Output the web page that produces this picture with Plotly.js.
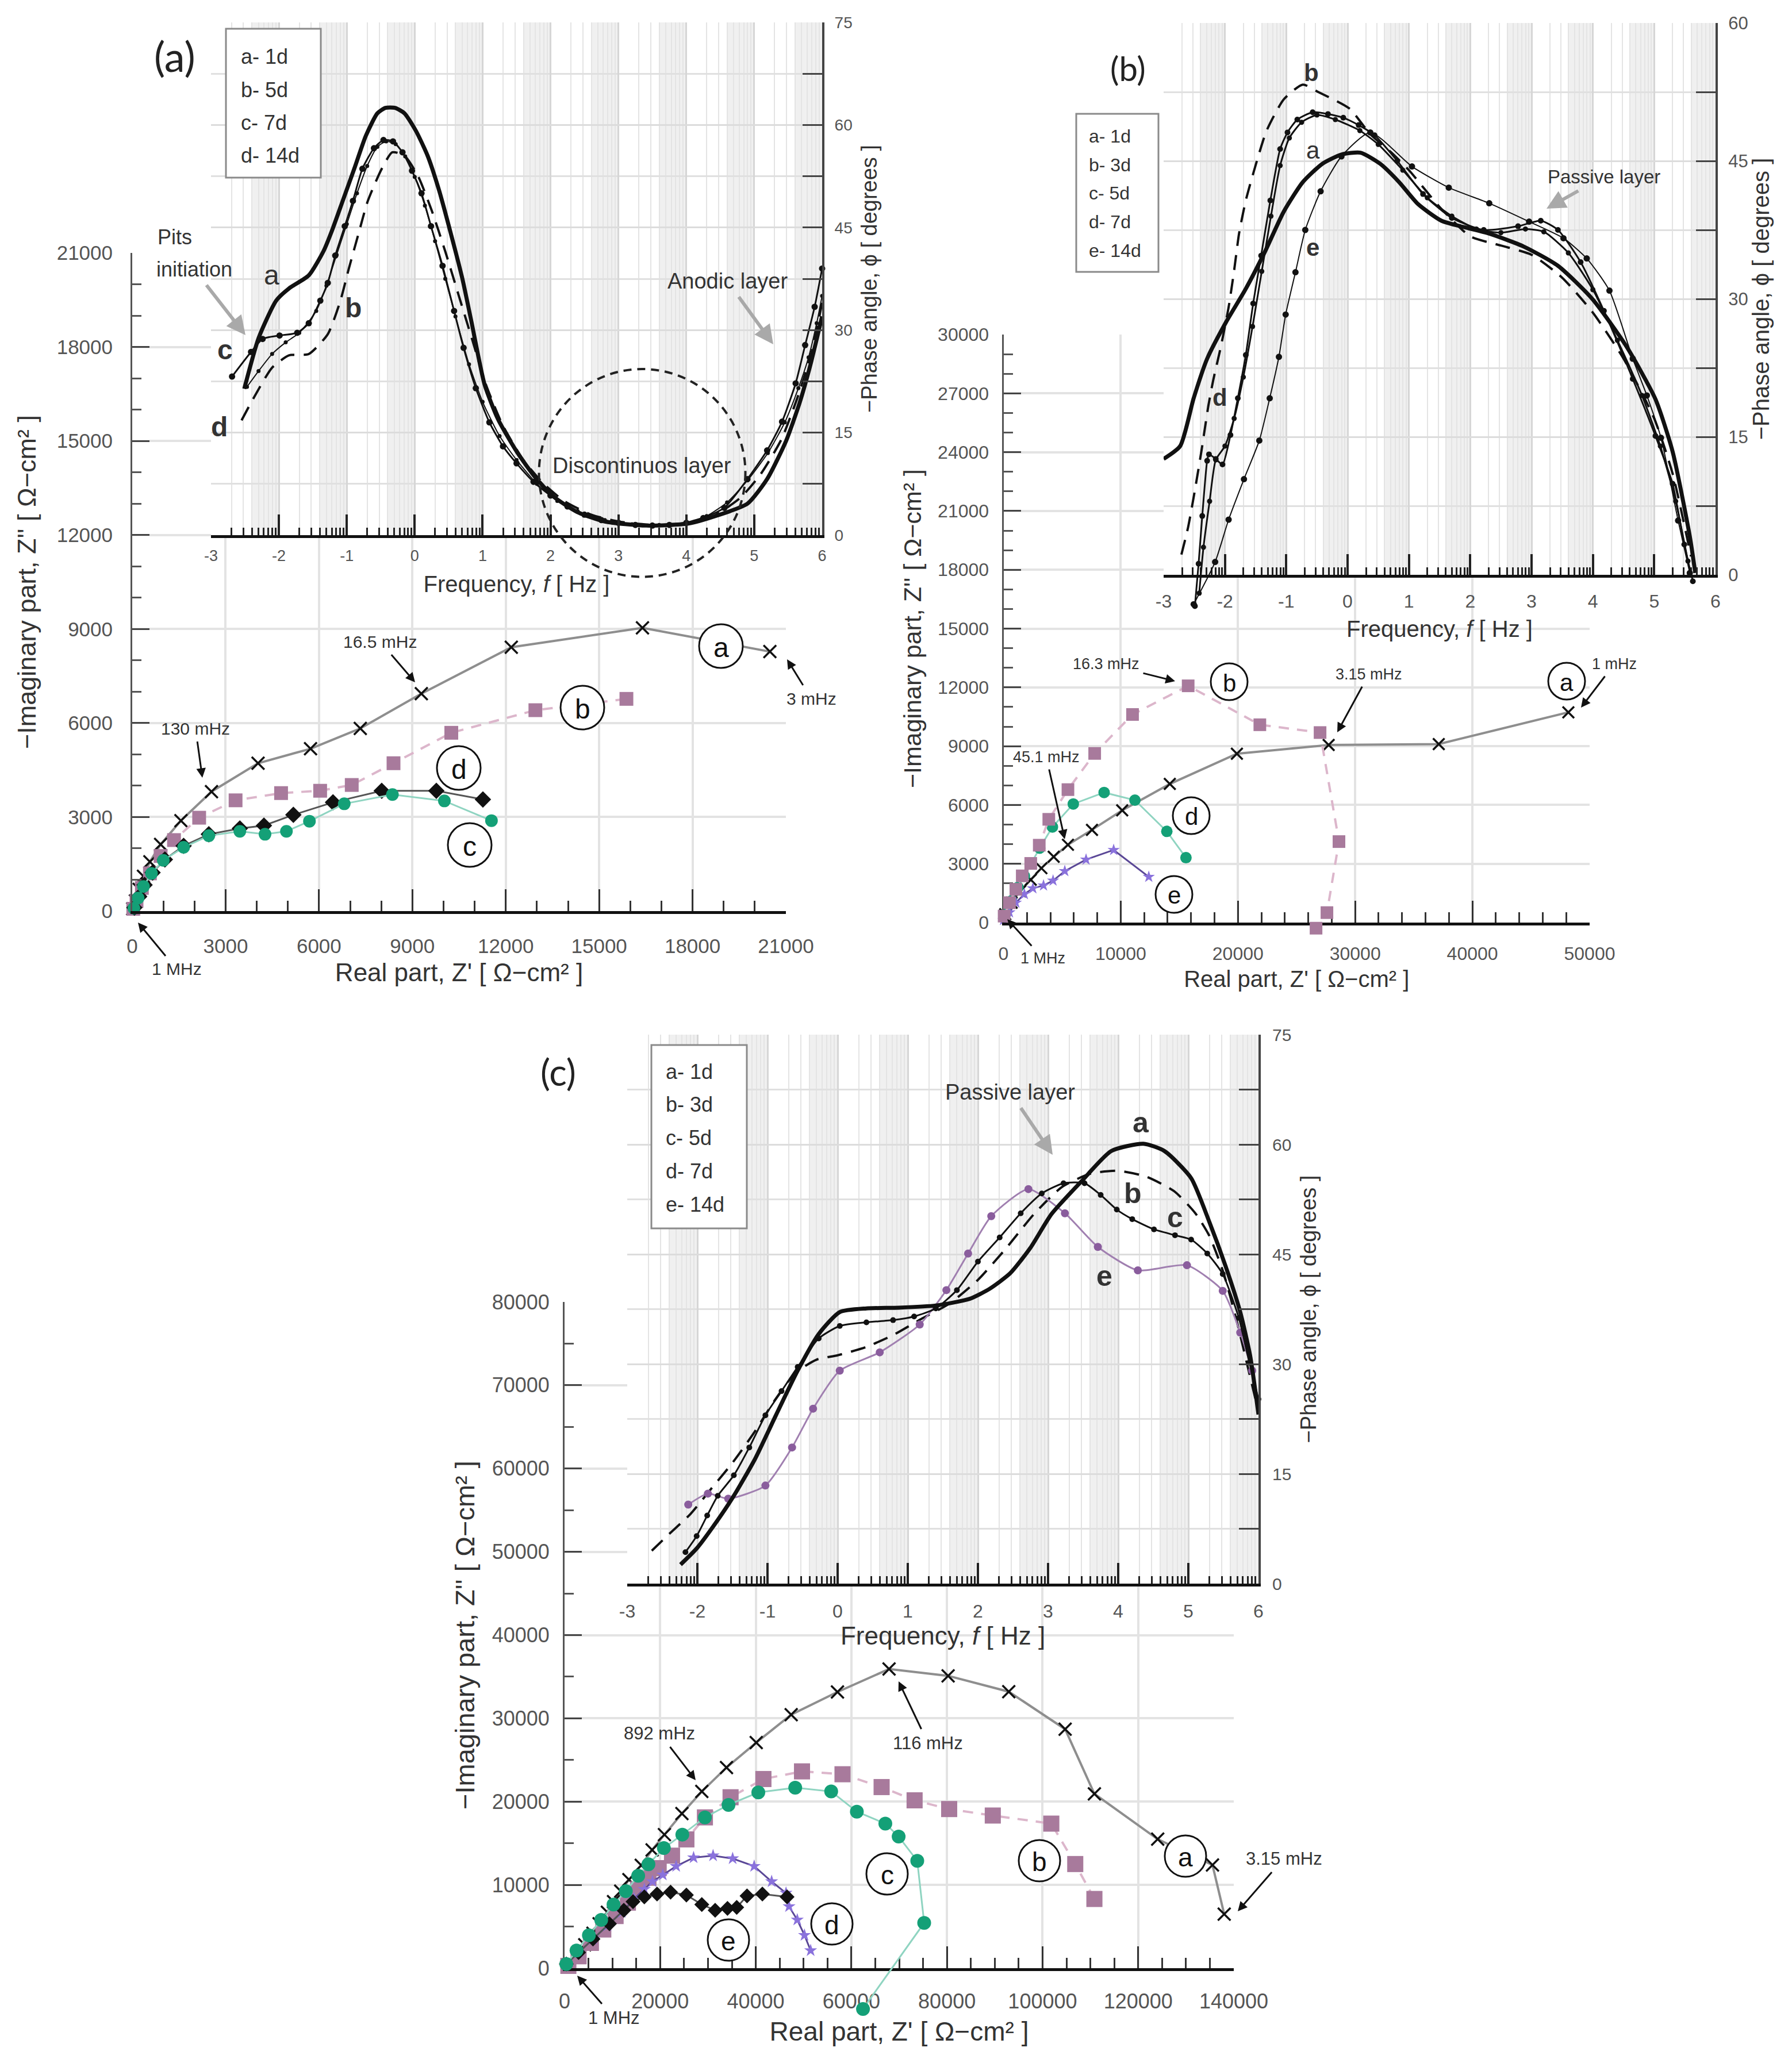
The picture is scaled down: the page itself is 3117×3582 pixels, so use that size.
<!DOCTYPE html>
<html>
<head>
<meta charset="utf-8">
<script src="https://cdn.plot.ly/plotly-3.0.1.min.js"></script>
<style>
  html, body { margin: 0; padding: 0; background: #ffffff; }
  #fig { width: 3117px; height: 3582px; }
</style>
</head>
<body>
<div id="fig"></div>
<script>
// ================= Nyquist data (Z' , -Z'' in ohm·cm²), high → low frequency =================
// Panel (a): 1, 5, 7, 14 days
const nyqA_a_re = [17, 103, 224, 361, 568, 912, 1565, 2546, 4042, 5728, 7327, 9288, 12178, 16392, 20485];
const nyqA_a_im = [74, 324, 694, 1110, 1573, 2128, 2886, 3811, 4718, 5180, 5828, 6937, 8418, 9037, 8279];
const nyqA_b_re = [34, 138, 310, 568, 912, 1342, 2150, 3320, 4782, 6037, 7052, 8394, 10251, 12952, 15876];
const nyqA_b_im = [74, 324, 740, 1203, 1758, 2266, 2979, 3534, 3765, 3839, 4024, 4718, 5689, 6410, 6771];
const nyqA_c_re = [52, 189, 361, 619, 998, 1651, 2460, 3457, 4266, 4954, 5693, 6811, 8359, 10028, 11541];
const nyqA_c_im = [93, 416, 786, 1203, 1619, 2035, 2405, 2544, 2451, 2544, 2868, 3423, 3719, 3515, 2886];
const nyqA_d_re = [69, 224, 396, 654, 1049, 1651, 2460, 3457, 4231, 5177, 6450, 8015, 9770, 11266];
const nyqA_d_im = [111, 463, 833, 1230, 1647, 2081, 2451, 2636, 2729, 3071, 3469, 3839, 3839, 3561];

// Panel (b): 1, 3, 7, 14 days
const nyqB_a_re = [147, 691, 1417, 2324, 3232, 4281, 5497, 7548, 10126, 14187, 19910, 27738, 37130, 48186];
const nyqB_a_im = [428, 1015, 1601, 2188, 2775, 3361, 3970, 4731, 5724, 7073, 8615, 9060, 9107, 10728];
const nyqB_b_re = [54, 510, 1054, 1599, 2324, 3050, 3864, 5497, 7778, 11007, 15752, 21867, 27004, 28618, 27591, 26661];
const nyqB_b_im = [331, 1015, 1698, 2384, 3019, 3948, 5268, 6784, 8630, 10617, 12079, 10093, 9695, 4132, 509, -286];
const nyqB_d_re = [147, 691, 1236, 1780, 2359, 3085, 4173, 5953, 8582, 11211, 13932, 15566];
const nyqB_d_im = [428, 1112, 1798, 2384, 3018, 3801, 4877, 6051, 6637, 6245, 4652, 3311];
const nyqB_e_re = [0, 510, 1054, 1780, 2506, 3413, 4227, 5228, 7042, 9397, 12393];
const nyqB_e_im = [135, 525, 1015, 1455, 1748, 1895, 2139, 2628, 3215, 3704, 2335];

// Panel (c): 1, 3, 5, 7, 14 days
const nyqC_a_re = [794, 2503, 4224, 5945, 7232, 8953, 10241, 11745, 13466, 16044, 18316, 20890, 24550, 28712, 33877, 40096, 47410, 57092, 67886, 80240, 92927, 104724, 110845, 124088, 135551, 138000];
const nyqC_a_im = [276, 1429, 2810, 4191, 5337, 6718, 7988, 9251, 10632, 12358, 14200, 16039, 18572, 21218, 24095, 27085, 30447, 33165, 35922, 35107, 33204, 28699, 20932, 15495, 12388, 6485];
const nyqC_b_re = [794, 2936, 5512, 8099, 10674, 13249, 15403, 17546, 19688, 22480, 25488, 29363, 34731, 41602, 49676, 58148, 66329, 73229, 80463, 89588, 101830, 106838, 110845];
const nyqC_b_im = [276, 1429, 3038, 4646, 6262, 7871, 9479, 10860, 12013, 13510, 15465, 18109, 20525, 22714, 23633, 23288, 21748, 20155, 19107, 18330, 17359, 12505, 8311];
const nyqC_c_re = [361, 2503, 5090, 7666, 10241, 12816, 15403, 17546, 20770, 24634, 29363, 34298, 40533, 48255, 55777, 61147, 67108, 69890, 73785, 75232, 62433];
const nyqC_c_im = [504, 2120, 3956, 5799, 7643, 9251, 11095, 12476, 14430, 16039, 18109, 19608, 21103, 21679, 21218, 18800, 17359, 15806, 12893, 5437, -4893];
const nyqC_d_re = [361, 2936, 5945, 9386, 12395, 14320, 16690, 19350, 22178, 25488, 28712, 31506, 34081, 36018, 38172, 41385, 46549];
const nyqC_d_im = [504, 1885, 3500, 5337, 6952, 7988, 8561, 8906, 9134, 8789, 7643, 6952, 7180, 7298, 8678, 8906, 8561];
const nyqC_e_re = [361, 2936, 5945, 8953, 11962, 14536, 16690, 18400, 20554, 23346, 26992, 31071, 35163, 39664, 43322, 46331, 46968, 48689, 50193, 51481];
const nyqC_e_im = [504, 1885, 3500, 5109, 6718, 8333, 9479, 10404, 11205, 12241, 13276, 13510, 13166, 12241, 10404, 9023, 7408, 5799, 3956, 2120];

// ================= Bode phase data (log10 f [Hz], -phase [deg]) =================
// Panel (a)
const bodeA_a_f  = [-2.51, -2.30, -2.04, -1.85, -1.56, -1.34, -1.22, -1.06, -0.89, -0.72, -0.55, -0.43, -0.29, -0.15, 0.02, 0.19, 0.36, 0.53, 0.70, 0.83, 1.03, 1.23, 1.51, 1.78, 2.05, 2.39, 2.80, 3.41, 4.03, 4.43, 4.90, 5.19, 5.47, 5.67, 5.83, 6.00];
const bodeA_a_ph = [21.4, 28.8, 34.3, 36.1, 38.0, 41.6, 44.5, 48.9, 53.6, 58.4, 61.7, 62.5, 62.5, 61.7, 59.1, 55.5, 50.4, 44.2, 37.6, 31.5, 22.0, 16.9, 12.1, 8.4, 5.6, 3.4, 2.0, 1.4, 1.7, 2.8, 4.6, 8.2, 13.8, 19.4, 25.0, 32.0];
const bodeA_b_f  = [-2.55, -2.37, -2.10, -1.85, -1.56, -1.28, -1.10, -0.97, -0.83, -0.69, -0.49, -0.33, -0.15, 0.05, 0.25, 0.45, 0.65, 0.85, 1.05, 1.30, 1.60, 1.90, 2.20, 2.60, 3.00, 3.50, 4.00, 4.40, 4.80, 5.10, 5.40, 5.65, 5.85, 6.00];
const bodeA_b_ph = [16.8, 20.1, 24.5, 26.3, 26.5, 29.4, 34.1, 39.0, 44.0, 48.9, 53.5, 56.0, 55.5, 52.5, 47.5, 41.5, 35.0, 28.5, 22.0, 16.0, 11.0, 7.5, 5.0, 3.0, 2.0, 1.5, 1.7, 2.8, 5.5, 9.0, 14.0, 20.5, 27.0, 34.0];
const bodeA_c_f  = [-2.69, -2.41, -2.24, -1.99, -1.73, -1.56, -1.39, -1.28, -1.17, -1.03, -0.91, -0.77, -0.60, -0.46, -0.32, -0.18, -0.04, 0.10, 0.24, 0.41, 0.58, 0.72, 0.90, 1.10, 1.30, 1.50, 1.75, 2.00, 2.25, 2.50, 2.75, 3.00, 3.25, 3.50, 3.75, 4.00, 4.25, 4.56, 4.90, 5.19, 5.41, 5.61, 5.75, 5.89, 6.00];
const bodeA_c_ph = [23.2, 26.8, 28.7, 29.2, 29.6, 31.0, 34.3, 36.9, 40.9, 45.2, 48.9, 53.6, 56.6, 57.8, 57.6, 56.0, 53.3, 50.0, 45.2, 39.4, 32.8, 27.4, 21.5, 16.5, 13.0, 10.5, 7.8, 5.8, 4.2, 3.0, 2.2, 1.8, 1.5, 1.4, 1.5, 1.8, 2.5, 4.0, 8.2, 12.4, 16.6, 22.2, 27.8, 33.4, 39.0];
const bodeA_d_f  = [-2.47, -2.30, -2.10, -1.90, -1.70, -1.45, -1.30, -1.15, -1.00, -0.85, -0.70, -0.55, -0.42, -0.28, -0.14, 0.00, 0.15, 0.30, 0.45, 0.60, 0.80, 1.00, 1.25, 1.50, 1.80, 2.10, 2.40, 2.80, 3.20, 3.60, 4.00, 4.30, 4.60, 4.90, 5.20, 5.45, 5.65, 5.80, 5.92, 6.00];
const bodeA_d_ph = [21.7, 24.0, 26.5, 28.2, 29.6, 32.8, 36.5, 41.0, 45.5, 50.0, 54.0, 56.8, 57.6, 57.2, 55.4, 52.4, 48.2, 43.0, 37.5, 32.0, 25.0, 19.5, 14.5, 11.0, 7.5, 5.0, 3.5, 2.2, 1.6, 1.5, 1.9, 2.8, 4.8, 8.0, 12.0, 16.5, 21.5, 26.0, 31.0, 35.0];

// Panel (b)
const bodeB_a_f  = [-3.00, -2.73, -2.51, -2.29, -1.98, -1.66, -1.35, -1.04, -0.73, -0.41, -0.10, 0.21, 0.53, 0.84, 1.15, 1.53, 1.90, 2.31, 2.87, 3.43, 3.99, 4.55, 5.02, 5.30, 5.58, 5.67];
const bodeB_a_ph = [12.6, 14.0, 19.2, 23.5, 27.5, 31.1, 35.1, 39.5, 42.7, 44.7, 45.7, 45.9, 44.7, 42.7, 40.3, 38.5, 37.8, 37.1, 35.7, 33.6, 30.0, 24.8, 19.1, 13.4, 4.2, 0.2];
const bodeB_b_f  = [-2.71, -2.60, -2.49, -2.38, -2.27, -2.19, -2.07, -1.94, -1.85, -1.77, -1.66, -1.51, -1.32, -1.04, -0.73, -0.48, 0.03, 0.37, 0.70, 1.00, 1.50, 2.00, 2.50, 3.00, 3.50, 4.00, 4.50, 5.00, 5.30, 5.60];
const bodeB_b_ph = [2.2, 5.2, 9.2, 13.6, 18.4, 21.2, 24.7, 29.1, 33.1, 37.1, 40.7, 44.3, 48.3, 51.7, 53.3, 52.5, 50.7, 47.9, 46.0, 44.0, 40.0, 36.8, 35.8, 34.8, 32.3, 28.5, 23.5, 17.0, 11.0, 2.0];
const bodeB_c_f  = [-2.42, -2.35, -2.25, -2.15, -2.00, -1.85, -1.70, -1.55, -1.40, -1.25, -1.10, -0.95, -0.75, -0.50, -0.20, 0.20, 0.50, 0.90, 1.30, 1.70, 2.10, 2.50, 2.90, 3.20, 3.60, 4.00, 4.40, 4.80, 5.10, 5.35, 5.55];
const bodeB_c_ph = [-2.0, 3.0, 8.0, 12.5, 14.0, 17.0, 21.5, 27.0, 33.0, 39.0, 44.5, 47.5, 49.2, 50.0, 49.5, 48.3, 46.8, 44.0, 41.0, 39.0, 37.6, 37.2, 37.6, 37.3, 35.0, 31.0, 25.5, 19.5, 14.0, 8.0, 1.5];
const bodeB_d_f  = [-2.49, -2.43, -2.37, -2.29, -2.26, -2.15, -2.04, -1.91, -1.79, -1.66, -1.54, -1.41, -1.26, -1.10, -0.98, -0.82, -0.57, -0.32, -0.07, 0.18, 0.44, 0.81, 1.23, 1.70, 2.22, 2.78, 3.15, 3.43, 3.80, 4.18, 4.65, 5.02, 5.30, 5.49, 5.63];
const bodeB_d_ph = [-3.4, 1.2, 6.4, 12.4, 13.1, 12.6, 12.0, 15.2, 19.2, 23.9, 29.5, 34.7, 40.7, 46.3, 48.1, 49.5, 50.3, 50.1, 49.7, 48.9, 47.8, 45.0, 41.4, 38.8, 37.5, 37.9, 38.5, 37.5, 34.0, 28.7, 21.3, 15.1, 9.9, 3.3, -0.7];
const bodeB_e_f  = [-2.51, -2.16, -1.94, -1.69, -1.44, -1.27, -1.12, -1.01, -0.85, -0.69, -0.44, -0.10, 0.37, 1.05, 1.65, 2.31, 2.96, 3.52, 3.90, 4.27, 4.65, 4.88, 5.11, 5.39, 5.58];
const bodeB_e_ph = [-3.2, 1.4, 6.0, 10.4, 14.6, 19.2, 23.7, 28.3, 32.9, 37.5, 41.7, 45.5, 48.1, 44.4, 42.1, 40.4, 38.4, 36.6, 34.4, 30.9, 23.5, 19.5, 14.9, 5.9, 0.2];

// Panel (c)
const bodeC_a_f  = [-2.24, -2.01, -1.79, -1.48, -1.18, -0.88, -0.57, -0.27, 0.03, 0.41, 0.87, 1.40, 1.88, 2.17, 2.46, 2.75, 3.05, 3.48, 3.90, 4.36, 4.66, 5.04, 5.30, 5.53, 5.74, 5.88, 6.00];
const bodeC_a_ph = [2.6, 4.8, 7.6, 12.0, 17.0, 23.0, 29.1, 34.1, 37.1, 37.6, 37.7, 38.0, 38.9, 40.3, 42.4, 45.9, 50.5, 55.0, 59.1, 60.1, 59.1, 55.4, 49.4, 43.4, 37.1, 31.2, 23.1];
const bodeC_b_f  = [-2.65, -2.40, -2.10, -1.80, -1.50, -1.20, -0.90, -0.60, -0.30, 0.00, 0.40, 0.80, 1.20, 1.60, 2.00, 2.40, 2.80, 3.20, 3.60, 4.00, 4.40, 4.80, 5.10, 5.30, 5.50, 5.70, 5.85, 6.00];
const bodeC_b_ph = [4.5, 6.8, 9.5, 13.0, 16.5, 20.5, 25.0, 28.8, 30.6, 31.2, 32.3, 34.0, 36.2, 38.3, 41.5, 45.8, 50.5, 54.2, 56.0, 56.4, 55.6, 53.6, 50.6, 47.5, 42.5, 35.5, 29.5, 23.5];
const bodeC_c_f  = [-2.17, -2.01, -1.86, -1.71, -1.48, -1.26, -1.03, -0.80, -0.57, -0.27, 0.03, 0.41, 0.79, 1.09, 1.40, 1.70, 2.00, 2.31, 2.61, 2.91, 3.22, 3.52, 3.75, 3.98, 4.20, 4.51, 4.81, 5.04, 5.27, 5.49, 5.72, 5.87, 6.00];
const bodeC_c_ph = [4.3, 6.5, 9.3, 12.0, 14.8, 18.6, 23.0, 26.3, 29.6, 33.5, 35.2, 35.7, 36.0, 36.5, 37.6, 40.1, 44.0, 47.3, 50.6, 53.3, 54.7, 54.7, 53.1, 51.1, 49.8, 48.4, 47.6, 47.0, 45.1, 42.3, 36.3, 30.2, 25.2];
const bodeC_e_f  = [-2.13, -1.85, -1.56, -1.03, -0.65, -0.35, 0.03, 0.60, 1.17, 1.55, 1.86, 2.19, 2.72, 3.24, 3.71, 4.28, 4.98, 5.49, 5.74, 5.91];
const bodeC_e_ph = [10.8, 12.3, 11.6, 13.4, 18.6, 23.9, 29.1, 31.6, 35.4, 40.1, 45.1, 50.2, 53.9, 50.6, 46.0, 42.8, 43.5, 40.0, 34.3, 29.1];

// ================= Labels =================
const decadeVals = [-3, -2, -1, 0, 1, 2, 3, 4, 5, 6];
const decadeText = ['-3', '-2', '-1', '0', '1', '2', '3', '4', '5', '6'];
const legendA = ['a- 1d', 'b- 5d', 'c- 7d', 'd- 14d'];
const legendB = ['a- 1d', 'b- 3d', 'c- 5d', 'd- 7d', 'e- 14d'];
const legendC = ['a- 1d', 'b- 3d', 'c- 5d', 'd- 7d', 'e- 14d'];

// ================= Page geometry helpers =================
const W = 3117, H = 3582;
const fx = p => p / W;
const fy = p => 1 - p / H;
const FONT = 'Liberation Sans, Arial, Helvetica, sans-serif';
const INK = '#333333';
const TICK = '#555555';

// minor positions of a log-decade axis (2..9 within every decade)
const minorLogs = [];
for (let n = -3; n < 6; n++) for (let k = 2; k <= 9; k++) minorLogs.push(n + Math.log10(k));

const IMAG_TITLE = '\u2212Imaginary part, Z\'\' [ \u03A9\u2212cm\u00B2 ]';
const REAL_TITLE = 'Real part, Z\' [ \u03A9\u2212cm\u00B2 ]';
const FREQ_TITLE = 'Frequency, <i>f</i> [ Hz ]';
const PHASE_TITLE = '\u2212Phase angle, \u03D5 [ degrees ]';

function nyqX(d0, d1, anchor, max, step, minorStep, fs, tfs, lso, tso) {
  return {
    domain: [fx(d0), fx(d1)], range: [0, max], anchor,
    tickmode: 'linear', tick0: 0, dtick: step, tickformat: 'd',
    ticks: 'inside', ticklen: 38, tickwidth: 3, tickcolor: '#333',
    showline: true, linecolor: '#111', linewidth: 5,
    showgrid: true, gridcolor: '#e3e3e3', gridwidth: 4, zeroline: false,
    minor: {tick0: 0, dtick: minorStep, ticks: 'inside', ticklen: 18, tickwidth: 3, tickcolor: '#333', showgrid: false},
    tickfont: {family: FONT, size: fs, color: TICK}, ticklabelstandoff: lso,
    title: {text: REAL_TITLE, font: {family: FONT, size: tfs, color: INK}, standoff: tso},
    fixedrange: true
  };
}
function nyqY(top, bottom, anchor, max, step, minorStep, fs, tfs, lso, tso) {
  return {
    domain: [fy(bottom), fy(top)], range: [0, max], anchor,
    tickmode: 'linear', tick0: 0, dtick: step, tickformat: 'd',
    ticks: 'inside', ticklen: 30, tickwidth: 3, tickcolor: '#444',
    showline: true, linecolor: '#555', linewidth: 3,
    showgrid: true, gridcolor: '#e3e3e3', gridwidth: 4, zeroline: false,
    minor: {tick0: 0, dtick: minorStep, ticks: 'inside', ticklen: 16, tickwidth: 3, tickcolor: '#555', showgrid: false},
    tickfont: {family: FONT, size: fs, color: TICK}, ticklabelstandoff: lso,
    title: {text: IMAG_TITLE, font: {family: FONT, size: tfs, color: INK}, standoff: tso},
    fixedrange: true
  };
}
function bodeX(d0, d1, anchor, fs, tfs, lso, tso) {
  return {
    domain: [fx(d0), fx(d1)], range: [-3, 6], anchor,
    tickmode: 'array', tickvals: decadeVals, ticktext: decadeText,
    ticks: 'inside', ticklen: 36, tickwidth: 4, tickcolor: '#222',
    showline: true, linecolor: '#111', linewidth: 5,
    showgrid: true, gridcolor: '#d6d6d6', gridwidth: 3, zeroline: false,
    minor: {tickmode: 'array', tickvals: minorLogs, ticks: 'inside', ticklen: 13, tickwidth: 3, tickcolor: '#222',
            showgrid: true, gridcolor: '#e4e4e4', gridwidth: 2},
    tickfont: {family: FONT, size: fs, color: TICK}, ticklabelstandoff: lso,
    title: {text: FREQ_TITLE, font: {family: FONT, size: tfs, color: INK}, standoff: tso},
    fixedrange: true
  };
}
function bodeY(top, bottom, anchor, max, fs, tfs, lso, tso) {
  return {
    domain: [fy(bottom), fy(top)], range: [0, max], anchor, side: 'right',
    tickmode: 'linear', tick0: 0, dtick: 15,
    ticks: 'inside', ticklen: 34, tickwidth: 3, tickcolor: '#444',
    showline: true, linecolor: '#444', linewidth: 4,
    showgrid: true, gridcolor: '#dcdcdc', gridwidth: 3, zeroline: false,
    minor: {tick0: 0, dtick: 7.5, ticks: 'inside', ticklen: 34, tickwidth: 3, tickcolor: '#444',
            showgrid: true, gridcolor: '#e0e0e0', gridwidth: 3},
    tickfont: {family: FONT, size: fs, color: TICK}, ticklabelstandoff: lso,
    title: {text: PHASE_TITLE, font: {family: FONT, size: tfs, color: INK}, standoff: tso},
    fixedrange: true
  };
}
// hidden twin axes at the same scale as a visible pair, reaching `extra` px below its zero line,
// so that curves running slightly below zero are not cut off at the axis
function twinX(d0, d1, anchor, lo, hi) {
  return {domain: [fx(d0), fx(d1)], range: [lo, hi], anchor, visible: false, fixedrange: true};
}
function twinY(top, bottom, anchor, max, extra) {
  const perPx = max / (bottom - top);
  return {domain: [fy(bottom + extra), fy(top)], range: [-extra * perPx, max], anchor, visible: false, fixedrange: true};
}

// ================= Trace styles =================
const S = {
  xMark:  (xa, ya, x, y, size) => ({x, y, xaxis: xa, yaxis: ya, mode: 'lines+markers', cliponaxis: false,
            line: {color: '#8e8e8e', width: 4}, marker: {symbol: 'x-thin', size, line: {width: 3.5, color: '#111'}}}),
  square: (xa, ya, x, y, size) => ({x, y, xaxis: xa, yaxis: ya, mode: 'lines+markers', cliponaxis: false,
            line: {color: '#dcb6cb', width: 4, dash: '18px,14px'}, marker: {symbol: 'square', size, color: '#a87a9c'}}),
  green:  (xa, ya, x, y, size) => ({x, y, xaxis: xa, yaxis: ya, mode: 'lines+markers', cliponaxis: false,
            line: {color: '#8fd4c1', width: 3}, marker: {symbol: 'circle', size, color: '#14a077'}}),
  diam:   (xa, ya, x, y, size) => ({x, y, xaxis: xa, yaxis: ya, mode: 'lines+markers', cliponaxis: false,
            line: {color: '#555555', width: 3}, marker: {symbol: 'diamond', size, color: '#111'}}),
  star:   (xa, ya, x, y, size) => ({x, y, xaxis: xa, yaxis: ya, mode: 'lines+markers', cliponaxis: false,
            line: {color: '#5a4796', width: 3}, marker: {symbol: 'star', size, color: '#8a72dc'}}),
  thick:  (xa, ya, x, y) => ({x, y, xaxis: xa, yaxis: ya, mode: 'lines', cliponaxis: false,
            line: {color: '#111', width: 7, shape: 'spline', smoothing: 0.6}}),
  dashed: (xa, ya, x, y) => ({x, y, xaxis: xa, yaxis: ya, mode: 'lines', cliponaxis: false,
            line: {color: '#111', width: 4, dash: '26px,16px', shape: 'spline', smoothing: 0.6}}),
  dotted: (xa, ya, x, y, size, width) => ({x, y, xaxis: xa, yaxis: ya, mode: 'lines+markers', cliponaxis: false,
            line: {color: '#111', width, shape: 'spline', smoothing: 0.6}, marker: {size, color: '#111'}}),
  purple: (xa, ya, x, y) => ({x, y, xaxis: xa, yaxis: ya, mode: 'lines+markers', cliponaxis: false,
            line: {color: '#a07fb0', width: 3, shape: 'spline', smoothing: 0.6}, marker: {size: 14, color: '#8a5d9d'}})
};

const traces = [
  // (a) Nyquist
  S.xMark('x', 'y', nyqA_a_re, nyqA_a_im, 22),
  S.square('x', 'y', nyqA_b_re, nyqA_b_im, 24),
  S.diam('x', 'y', nyqA_d_re, nyqA_d_im, 22),
  S.green('x', 'y', nyqA_c_re, nyqA_c_im, 22),
  // (a) Bode
  S.dashed('x2', 'y2', bodeA_b_f, bodeA_b_ph),
  S.dotted('x2', 'y2', bodeA_d_f, bodeA_d_ph, 7, 2),
  S.dotted('x2', 'y2', bodeA_c_f, bodeA_c_ph, 11, 3),
  S.thick('x2', 'y2', bodeA_a_f, bodeA_a_ph),
  // (b) Nyquist
  S.xMark('x3', 'y3', nyqB_a_re, nyqB_a_im, 20),
  S.green('x3', 'y3', nyqB_d_re, nyqB_d_im, 20),
  S.star('x3', 'y3', nyqB_e_re, nyqB_e_im, 16),
  S.square('x8', 'y8', nyqB_b_re, nyqB_b_im, 22),
  // (b) Bode
  S.dashed('x4', 'y4', bodeB_b_f, bodeB_b_ph),
  S.thick('x4', 'y4', bodeB_a_f, bodeB_a_ph),
  S.dotted('x9', 'y9', bodeB_e_f, bodeB_e_ph, 11, 2),
  S.dotted('x9', 'y9', bodeB_c_f, bodeB_c_ph, 9, 3),
  S.dotted('x9', 'y9', bodeB_d_f, bodeB_d_ph, 10, 3),
  // (c) Nyquist
  S.xMark('x5', 'y5', nyqC_a_re, nyqC_a_im, 22),
  S.square('x5', 'y5', nyqC_b_re, nyqC_b_im, 28),
  S.star('x5', 'y5', nyqC_e_re, nyqC_e_im, 17),
  S.diam('x5', 'y5', nyqC_d_re, nyqC_d_im, 20),
  S.green('x7', 'y7', nyqC_c_re, nyqC_c_im, 24),
  // (c) Bode
  S.dashed('x6', 'y6', bodeC_b_f, bodeC_b_ph),
  S.purple('x6', 'y6', bodeC_e_f, bodeC_e_ph),
  S.dotted('x6', 'y6', bodeC_c_f, bodeC_c_ph, 10, 3),
  S.thick('x6', 'y6', bodeC_a_f, bodeC_a_ph)
];

// ================= Shapes =================
const shapes = [];
// opaque inset backgrounds, then the shaded upper part of every decade
[['x2', 'y2', 75], ['x4', 'y4', 60], ['x6', 'y6', 75]].forEach(([xa, ya, top]) => {
  shapes.push({type: 'rect', xref: xa, yref: ya, x0: -3, x1: 6, y0: 0, y1: top,
               fillcolor: '#ffffff', line: {width: 0}, layer: 'below'});
  for (let n = -3; n < 6; n++) {
    shapes.push({type: 'rect', xref: xa, yref: ya, x0: n + Math.log10(4), x1: n + 1, y0: 0, y1: top,
                 fillcolor: '#f0f0f0', line: {width: 0}, layer: 'below'});
  }
});
// dashed ring marking the discontinuous layer, (a) inset
const domF = v => (v + 3) / 9;
shapes.push({type: 'circle', xref: 'x2 domain', yref: 'y2 domain',
             x0: domF(1.83), x1: domF(4.87), y0: -6.1 / 75, y1: 24.3 / 75,
             line: {color: '#222', width: 4, dash: '14px,10px'}, layer: 'above'});
// legend boxes
const box = (x0, y0, x1, y1) => ({type: 'rect', xref: 'paper', yref: 'paper', x0: fx(x0), x1: fx(x1), y0: fy(y1), y1: fy(y0),
                                  line: {color: '#8a8a8a', width: 3}, fillcolor: '#ffffff', layer: 'above'});
shapes.push(box(393, 50, 558, 309), box(1872, 198, 2015, 473), box(1133, 1818, 1299, 2137));

// ================= Annotations =================
const annotations = [];
const txt = (text, x, y, size, extra) => Object.assign({xref: 'paper', yref: 'paper', x: fx(x), y: fy(y), text,
  showarrow: false, xanchor: 'center', yanchor: 'middle', font: {family: FONT, size, color: INK}}, extra || {});
// text centred at (tx, ty) with an arrow running from the text towards (hx, hy)
const pointer = (text, tx, ty, hx, hy, size, color, width) => ({xref: 'paper', yref: 'paper', x: fx(hx), y: fy(hy),
  ax: tx - hx, ay: ty - hy, axref: 'pixel', ayref: 'pixel', text, showarrow: true,
  font: {family: FONT, size, color: INK}, borderpad: 6,
  arrowhead: 2, arrowsize: 1.1, arrowwidth: width || 3, arrowcolor: color || '#111', standoff: 0});
const ring = (letter, cx, cy, r, size) => {
  shapes.push({type: 'circle', xref: 'paper', yref: 'paper', x0: fx(cx - r), x1: fx(cx + r), y0: fy(cy + r), y1: fy(cy - r),
               line: {color: '#111', width: 3}, fillcolor: '#ffffff', layer: 'above'});
  annotations.push(txt(letter, cx, cy + 2, size, {font: {family: FONT, size, color: '#111'}}));
};
const panelTag = (t, x, y, size) => txt(t, x, y, size, {font: {family: 'Lato, Open Sans, sans-serif', size, color: '#222'}});
const GREY = '#a9a9a9';

// (a)
annotations.push(panelTag('(a)', 304, 97, 72));
legendA.forEach((s, i) => annotations.push(txt(s, 417, 99 + 57 * i, 36, {xanchor: 'left'})));
annotations.push(txt('Pits', 272, 412, 36, {xanchor: 'left'}));
annotations.push(pointer('initiation', 338, 469, 427, 583, 36, GREY, 6));
annotations.push(txt('a', 473, 479, 48), txt('<b>b</b>', 614, 536, 48), txt('<b>c</b>', 391, 608, 48), txt('<b>d</b>', 381, 742, 48));
annotations.push(pointer('Anodic layer', 1265, 489, 1345, 599, 38, GREY, 6));
annotations.push(txt('Discontinuos layer', 1116, 810, 38));
annotations.push(pointer('16.5 mHz', 661, 1116, 722, 1187, 30));
annotations.push(pointer('130 mHz', 340, 1267, 352, 1353, 30));
annotations.push(pointer('3 mHz', 1411, 1215, 1369, 1147, 30));
annotations.push(pointer('1 MHz', 307, 1686, 240, 1605, 30));
ring('a', 1254, 1124, 38, 48); ring('b', 1013, 1231, 38, 48); ring('d', 798, 1336, 38, 48); ring('c', 817, 1470, 38, 48);

// (b)
annotations.push(panelTag('(b)', 1962, 119, 58));
legendB.forEach((s, i) => annotations.push(txt(s, 1892, 237 + 49.75 * i, 32, {xanchor: 'left'})));
annotations.push(txt('<b>b</b>', 2281, 126, 42), txt('a', 2284, 261, 42), txt('<b>e</b>', 2283, 431, 42), txt('<b>d</b>', 2122, 691, 42));
annotations.push(pointer('Passive layer', 2790, 307, 2690, 363, 33, GREY, 6));
annotations.push(pointer('16.3 mHz', 1924, 1155, 2044, 1185, 27));
annotations.push(pointer('3.15 mHz', 2381, 1173, 2326, 1274, 27));
annotations.push(pointer('1 mHz', 2808, 1155, 2750, 1231, 27));
annotations.push(pointer('45.1 mHz', 1820, 1317, 1852, 1460, 27));
annotations.push(pointer('1 MHz', 1814, 1667, 1752, 1599, 27));
ring('b', 2138, 1186, 32, 42); ring('a', 2725, 1185, 32, 42); ring('d', 2072, 1419, 32, 42); ring('e', 2042, 1556, 32, 42);

// (c)
annotations.push(panelTag('(c)', 971, 1864, 64));
legendC.forEach((s, i) => annotations.push(txt(s, 1156, 1864 + 57.75 * i, 36, {xanchor: 'left'})));
annotations.push(txt('<b>a</b>', 1984, 1953, 50), txt('<b>b</b>', 1970, 2076, 50), txt('<b>c</b>', 2044, 2118, 50), txt('<b>e</b>', 1921, 2220, 50));
annotations.push(pointer('Passive layer', 1757, 1900, 1831, 2009, 38, GREY, 6));
annotations.push(pointer('892 mHz', 1147, 3015, 1210, 3097, 31));
annotations.push(pointer('116 mHz', 1614, 3032, 1563, 2925, 31));
annotations.push(pointer('3.15 mHz', 2233, 3233, 2153, 3325, 31));
annotations.push(pointer('1 MHz', 1068, 3510, 1004, 3437, 31));
ring('a', 2062, 3229, 36, 46); ring('b', 1808, 3237, 36, 46); ring('c', 1543, 3260, 36, 46); ring('d', 1447, 3347, 36, 46); ring('e', 1267, 3375, 36, 46);

// ================= Layout =================
const layout = {
  width: W, height: H,
  margin: {l: 0, r: 0, t: 0, b: 0, pad: 0},
  paper_bgcolor: '#ffffff', plot_bgcolor: 'rgba(0,0,0,0)',
  font: {family: FONT, color: INK},
  showlegend: false,
  xaxis:  nyqX(230, 1367, 'y', 21000, 3000, 1000, 35, 44, 26, 14),
  yaxis:  nyqY(440, 1585, 'x', 21000, 3000, 1000, 35, 45, 24, 22),
  xaxis2: bodeX(367, 1430, 'y2', 27, 40, 8, 22),
  yaxis2: bodeY(39, 931, 'x2', 75, 28, 38, 12, 18),
  xaxis3: nyqX(1745.5, 2765, 'y3', 50000, 10000, 2000, 32, 40, 22, 14),
  yaxis3: nyqY(582, 1605, 'x3', 30000, 3000, 1000, 32, 43, 16, 16),
  xaxis4: bodeX(2024, 2984, 'y4', 32, 40, 14, 18),
  yaxis4: bodeY(40, 1000, 'x4', 60, 31, 40, 12, 10),
  xaxis5: nyqX(982, 2146, 'y5', 140000, 20000, 5000, 36, 46, 22, 18),
  yaxis5: nyqY(2265, 3424, 'x5', 80000, 10000, 5000, 36, 47, 16, 16),
  xaxis6: bodeX(1091, 2189, 'y6', 32, 44, 16, 4),
  yaxis6: bodeY(1800, 2755, 'x6', 75, 30, 38, 14, 18),
  // hidden twins: (c) Nyquist, (b) Nyquist, (b) Bode
  xaxis7: twinX(982, 2146, 'y7', 0, 140000),
  yaxis7: twinY(2265, 3424, 'x7', 80000, 90),
  xaxis8: twinX(1745.5, 2765, 'y8', 0, 50000),
  yaxis8: twinY(582, 1605, 'x8', 30000, 40),
  xaxis9: twinX(2024, 2984, 'y9', -3, 6),
  yaxis9: twinY(40, 1000, 'x9', 60, 70),
  shapes, annotations
};

Plotly.newPlot('fig', traces, layout, {displayModeBar: false, staticPlot: true});
</script>
</body>
</html>
